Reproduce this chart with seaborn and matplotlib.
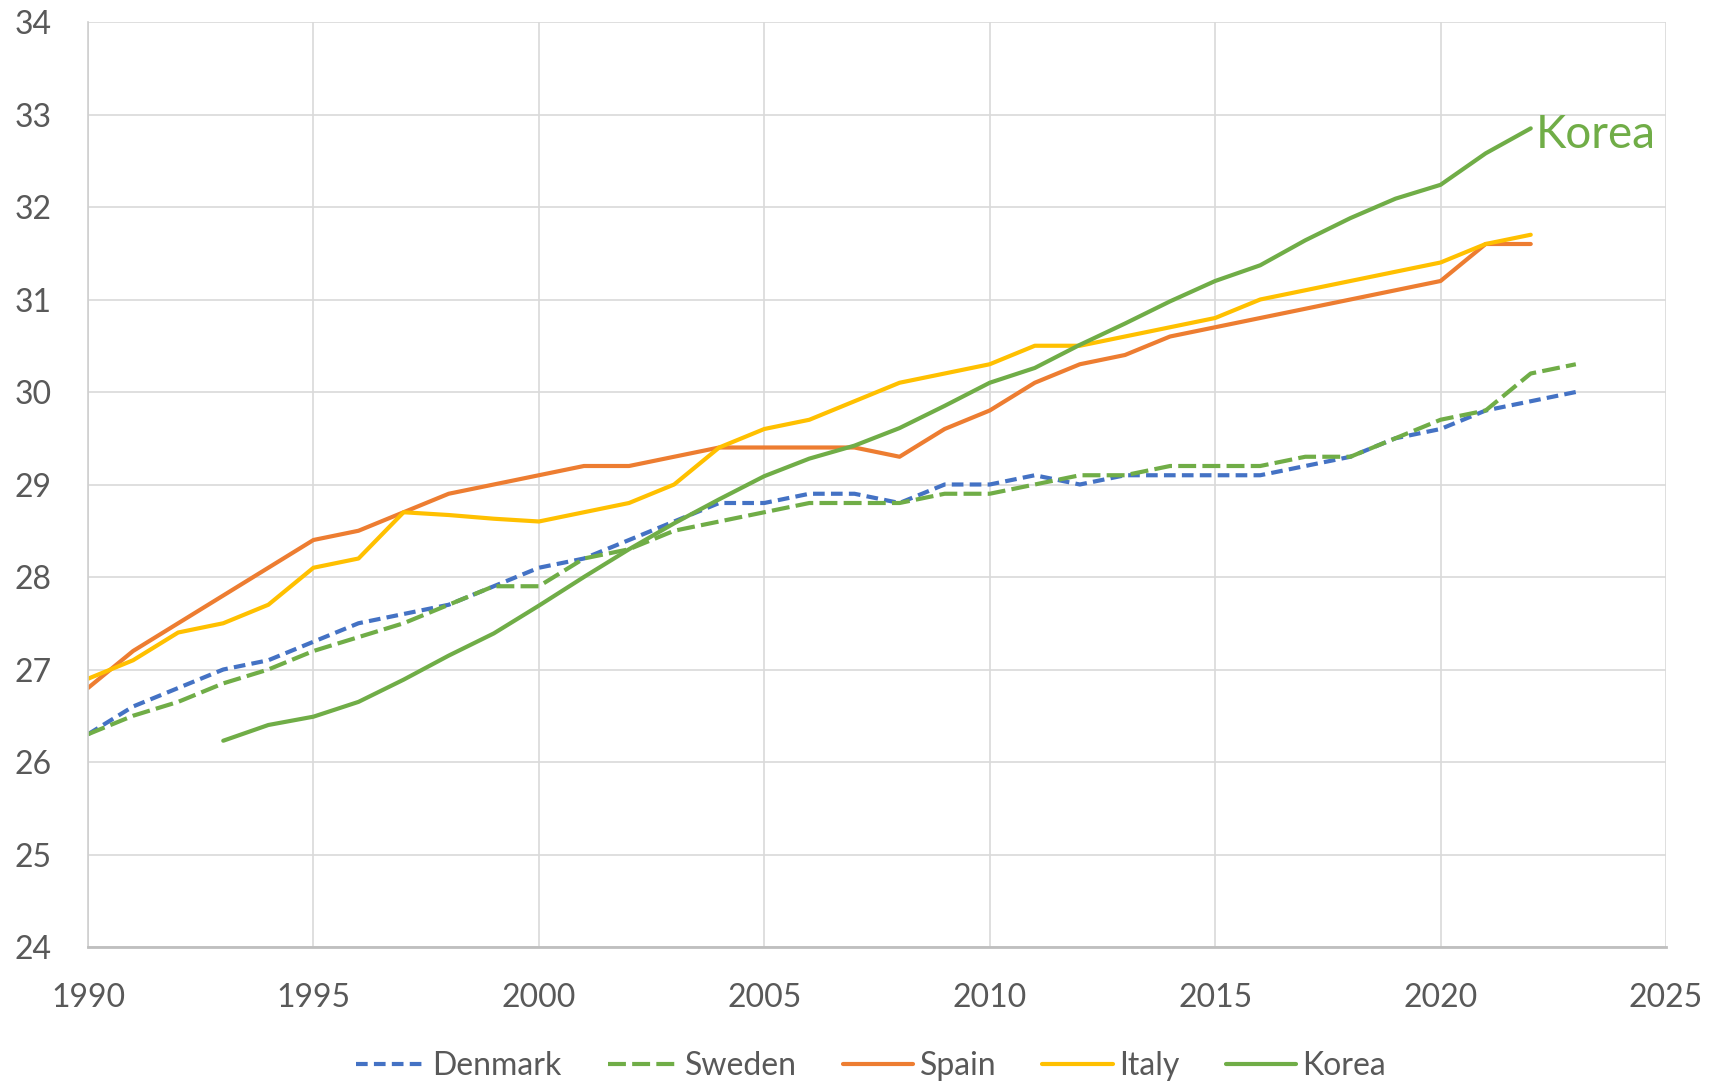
import pandas as pd
import seaborn as sb
import matplotlib.pyplot as plt
from matplotlib.ticker import MultipleLocator

# mean age of women at first birth
years = list(range(1990, 2024))
denmark = [26.3, 26.6, 26.8, 27.0, 27.1, 27.3, 27.5, 27.6, 27.7, 27.9,
           28.1, 28.2, 28.4, 28.6, 28.8, 28.8, 28.9, 28.9, 28.8, 29.0,
           29.0, 29.1, 29.0, 29.1, 29.1, 29.1, 29.1, 29.2, 29.3, 29.5,
           29.6, 29.8, 29.9, 30.0]
sweden = [26.3, 26.5, 26.65, 26.85, 27.0, 27.2, 27.35, 27.5, 27.7, 27.9,
          27.9, 28.2, 28.3, 28.5, 28.6, 28.7, 28.8, 28.8, 28.8, 28.9,
          28.9, 29.0, 29.1, 29.1, 29.2, 29.2, 29.2, 29.3, 29.3, 29.5,
          29.7, 29.8, 30.2, 30.3]
years_es_it = list(range(1990, 2023))
spain = [26.8, 27.2, 27.5, 27.8, 28.1, 28.4, 28.5, 28.7, 28.9, 29.0,
         29.1, 29.2, 29.2, 29.3, 29.4, 29.4, 29.4, 29.4, 29.3, 29.6,
         29.8, 30.1, 30.3, 30.4, 30.6, 30.7, 30.8, 30.9, 31.0, 31.1,
         31.2, 31.6, 31.6]
italy = [26.9, 27.1, 27.4, 27.5, 27.7, 28.1, 28.2, 28.7, 28.67, 28.63,
         28.6, 28.7, 28.8, 29.0, 29.4, 29.6, 29.7, 29.9, 30.1, 30.2,
         30.3, 30.5, 30.5, 30.6, 30.7, 30.8, 31.0, 31.1, 31.2, 31.3,
         31.4, 31.6, 31.7]
years_kr = list(range(1993, 2023))
korea = [26.23, 26.4, 26.49, 26.65, 26.89, 27.15, 27.39, 27.69, 28.0, 28.3,
         28.58, 28.84, 29.09, 29.28, 29.42, 29.61, 29.85, 30.1, 30.26, 30.51,
         30.74, 30.98, 31.2, 31.37, 31.64, 31.88, 32.09, 32.24, 32.58, 32.85]

countries = ['Denmark', 'Sweden', 'Spain', 'Italy', 'Korea']
colors = ['#4472C4', '#70AD47', '#ED7D31', '#FFC000', '#70AD47']

frames = []
for name, yrs, vals in [('Denmark', years, denmark), ('Sweden', years, sweden),
                        ('Spain', years_es_it, spain), ('Italy', years_es_it, italy),
                        ('Korea', years_kr, korea)]:
    frames.append(pd.DataFrame({'year': yrs, 'age': vals, 'country': name}))
df = pd.concat(frames, ignore_index=True)

sb.set_style('white')
plt.rcParams['font.family'] = ['Lato', 'DejaVu Sans']
grey = '#595959'
lw = 3.0

fig = plt.figure(figsize=(17.11, 10.83), dpi=100)
ax = fig.add_axes([88 / 1711, 1 - 947 / 1083, (1666 - 88) / 1711, (947 - 22) / 1083])

dash_map = {'Denmark': (2.8, 1.5), 'Sweden': (4.3, 1.5), 'Spain': '', 'Italy': '', 'Korea': ''}
sb.lineplot(data=df, x='year', y='age', hue='country', style='country',
            hue_order=countries, style_order=countries,
            palette=dict(zip(countries, colors)), dashes=dash_map,
            linewidth=lw, ax=ax, legend=False)

ax.set_xlim(1990, 2025)
ax.set_ylim(24, 34)
ax.xaxis.set_major_locator(MultipleLocator(5))
ax.xaxis.set_minor_locator(MultipleLocator(1))
ax.yaxis.set_major_locator(MultipleLocator(1))
ax.grid(True, which='major', color='#d9d9d9', linewidth=1.2)
ax.set_axisbelow(True)
for s in ['top', 'right']:
    ax.spines[s].set_visible(False)
ax.spines['left'].set_color('#cfcfcf')
ax.spines['left'].set_linewidth(1.2)
ax.spines['bottom'].set_color('#bfbfbf')
ax.spines['bottom'].set_linewidth(2)
ax.tick_params(axis='y', length=0, pad=26, labelsize=23, labelcolor=grey)
ax.tick_params(axis='x', which='major', direction='inout', length=16, width=1.2,
               color='#c8c8c8', pad=18, labelsize=23, labelcolor=grey)
ax.tick_params(axis='x', which='minor', direction='in', length=7, width=1.2, color='#c8c8c8')
ax.set_xlabel('')
ax.set_ylabel('')

ax.annotate('Korea', xy=(years_kr[-1], korea[-1]), xytext=(5, -20),
            textcoords='offset pixels', ha='left', va='baseline',
            fontsize=33, color='#70AD47')

handles = []
for name, c in zip(countries, colors):
    ls = (0, dash_map[name]) if dash_map[name] else '-'
    h, = ax.plot([], [], color=c, linewidth=lw, linestyle=ls, label=name)
    handles.append(h)
fig.legend(handles=handles, loc='center', bbox_to_anchor=(0.509, 1 - 1066 / 1083),
           ncol=5, frameon=False, fontsize=23, labelcolor=grey,
           handlelength=2.2, handletextpad=0.2, columnspacing=1.45)

fig.savefig('out.png', dpi=100)
